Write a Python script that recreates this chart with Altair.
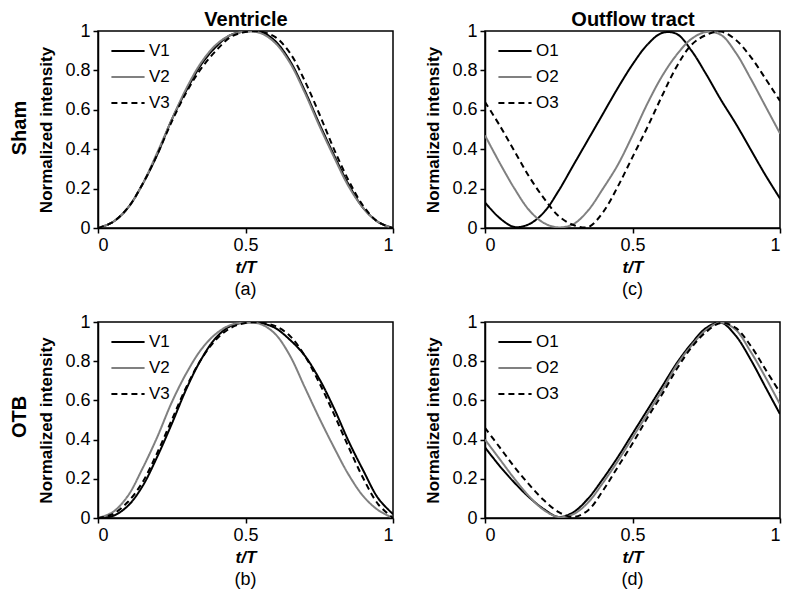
import altair as alt
import pandas as pd

# ---------------- data ----------------
t = [0.0, 0.05, 0.1, 0.15, 0.2, 0.25, 0.3, 0.35, 0.4, 0.45, 0.5,
     0.55, 0.6, 0.65, 0.7, 0.75, 0.8, 0.85, 0.9, 0.95, 1.0]

ventricle_names = ["V1", "V2", "V3"]
outflow_names = ["O1", "O2", "O3"]

# (a) Sham, ventricle
sham_v1 = [0, 0.03, 0.10, 0.22, 0.37, 0.55, 0.70, 0.83, 0.92, 0.98, 0.997,
           0.997, 0.95, 0.85, 0.70, 0.53, 0.37, 0.22, 0.10, 0.03, 0]
sham_v2 = [0, 0.03, 0.10, 0.22, 0.38, 0.55, 0.71, 0.84, 0.93, 0.98, 0.997,
           0.99, 0.94, 0.84, 0.69, 0.52, 0.36, 0.21, 0.10, 0.03, 0]
sham_v3 = [0, 0.03, 0.10, 0.22, 0.37, 0.54, 0.69, 0.81, 0.90, 0.97, 0.995,
           0.997, 0.97, 0.89, 0.75, 0.58, 0.40, 0.24, 0.11, 0.03, 0]

# (b) OTB, ventricle
otb_v1 = [0, 0.01, 0.06, 0.16, 0.31, 0.48, 0.66, 0.81, 0.92, 0.98, 0.997,
          0.995, 0.97, 0.91, 0.83, 0.71, 0.56, 0.39, 0.24, 0.10, 0.02]
otb_v2 = [0, 0.03, 0.11, 0.25, 0.41, 0.59, 0.74, 0.86, 0.94, 0.985, 0.997,
          0.99, 0.94, 0.83, 0.67, 0.51, 0.36, 0.22, 0.11, 0.04, 0.0]
otb_v3 = [0, 0.02, 0.08, 0.18, 0.33, 0.50, 0.67, 0.81, 0.91, 0.97, 0.995,
          0.997, 0.98, 0.93, 0.83, 0.69, 0.53, 0.36, 0.20, 0.07, 0.0]

# (c) Sham, outflow tract
sham_o1 = [0.13, 0.05, 0.005, 0.02, 0.08, 0.19, 0.32, 0.45, 0.58, 0.71, 0.83,
           0.93, 0.99, 0.985, 0.90, 0.78, 0.65, 0.53, 0.40, 0.27, 0.15]
sham_o2 = [0.47, 0.33, 0.20, 0.09, 0.025, 0.003, 0.02, 0.09, 0.20, 0.32, 0.47,
           0.63, 0.77, 0.88, 0.96, 0.995, 0.98, 0.89, 0.76, 0.62, 0.48]
sham_o3 = [0.64, 0.52, 0.39, 0.26, 0.15, 0.06, 0.015, 0.005, 0.08, 0.21, 0.36,
           0.51, 0.67, 0.82, 0.93, 0.98, 0.997, 0.955, 0.87, 0.76, 0.645]

# (d) OTB, outflow tract
otb_o1 = [0.36, 0.265, 0.18, 0.105, 0.045, 0.005, 0.03, 0.10, 0.20, 0.31, 0.43,
          0.55, 0.67, 0.79, 0.89, 0.97, 0.997, 0.93, 0.81, 0.67, 0.53]
otb_o2 = [0.40, 0.30, 0.20, 0.11, 0.04, 0.005, 0.02, 0.08, 0.18, 0.29, 0.41,
          0.53, 0.65, 0.78, 0.88, 0.96, 0.997, 0.96, 0.85, 0.72, 0.58]
otb_o3 = [0.46, 0.36, 0.26, 0.17, 0.09, 0.03, 0.005, 0.04, 0.14, 0.26, 0.38,
          0.51, 0.63, 0.76, 0.87, 0.95, 0.995, 0.97, 0.88, 0.76, 0.64]

x_ticks = [0, 0.5, 1]
y_ticks = [0, 0.2, 0.4, 0.6, 0.8, 1]

BLACK = "#000000"
GRAY = "#808080"
FONT = "Liberation Sans"


def make_df(names, series):
    rows = []
    for name, vals in zip(names, series):
        for ti, v in zip(t, vals):
            rows.append({"t": ti, "series": name, "value": v})
    return pd.DataFrame(rows)


def panel(df, names, label, width, height, top_title=None):
    leg = alt.Legend(
        title=None, orient="none", legendX=12, legendY=2, padding=0,
        symbolType="stroke", symbolSize=1100, symbolStrokeWidth=2,
        labelFontSize=17, labelFont=FONT, labelColor=BLACK,
        labelOffset=3, rowPadding=-9,
    )
    xs = alt.Scale(domain=[0, 1], nice=False, zero=False)
    ys = alt.Scale(domain=[0, 1], nice=False)
    lines = alt.Chart(df).mark_line(
        strokeWidth=2, interpolate="catmull-rom", clip=True
    ).encode(
        x=alt.X("t:Q", scale=xs,
                axis=alt.Axis(values=x_ticks, format="~g", title="t/T",
                              titleFontStyle="italic", titlePadding=5)),
        y=alt.Y("value:Q", scale=ys,
                axis=alt.Axis(values=y_ticks, format="~g",
                              title="Normalized intensity", titlePadding=9)),
        color=alt.Color("series:N",
                        scale=alt.Scale(domain=names, range=[BLACK, GRAY, BLACK]),
                        legend=leg),
        strokeDash=alt.StrokeDash("series:N",
                                  scale=alt.Scale(domain=names,
                                                  range=[[1, 0], [1, 0], [6, 4]]),
                                  legend=leg),
    )
    layers = [lines]
    if top_title:
        top = alt.Chart(df).mark_line(opacity=0).encode(
            x=alt.X("t:Q", scale=xs,
                    axis=alt.Axis(orient="top", title=top_title, labels=False,
                                  ticks=False, domain=False, titleFontSize=20,
                                  titleFontWeight="bold", titlePadding=2,
                                  minExtent=0, maxExtent=0,
                                  titleFontStyle="normal")),
            y=alt.Y("value:Q", scale=ys, axis=None),
            detail="series:N",
        )
        layers.append(top)
    out = alt.layer(*layers).properties(
        width=width, height=height,
        title=alt.TitleParams(label, orient="bottom", fontSize=18,
                              fontWeight="normal", offset=6, anchor="middle",
                              font=FONT, color=BLACK),
    )
    if top_title:
        out = out.resolve_axis(x="independent", y="independent")
    return out


pa = panel(make_df(ventricle_names, [sham_v1, sham_v2, sham_v3]),
           ventricle_names, "(a)", 295, 197, "Ventricle")
pc = panel(make_df(outflow_names, [sham_o1, sham_o2, sham_o3]),
           outflow_names, "(c)", 295, 197, "Outflow tract")
pb = panel(make_df(ventricle_names, [otb_v1, otb_v2, otb_v3]),
           ventricle_names, "(b)", 295, 196)
pd_ = panel(make_df(outflow_names, [otb_o1, otb_o2, otb_o3]),
            outflow_names, "(d)", 295, 196)


def row(p1, p2, name, shift):
    return alt.hconcat(
        p1, p2, spacing=29,
        title=alt.TitleParams(name, orient="left", fontSize=20, fontWeight="bold",
                              anchor="middle", frame="bounds", offset=7,
                              dx=shift, font=FONT, color=BLACK),
    ).resolve_scale(color="independent", strokeDash="independent")


chart = alt.vconcat(
    row(pa, pc, "Sham", 26), row(pb, pd_, "OTB", 34), spacing=12,
).resolve_scale(
    color="independent", strokeDash="independent"
).properties(
    padding={"left": 2, "top": 0, "right": 0, "bottom": 0},
).configure(
    font=FONT
).configure_view(
    stroke=BLACK, strokeWidth=1.5
).configure_axis(
    grid=False, domainColor=BLACK, domainWidth=1.5, tickColor=BLACK,
    tickWidth=1.5, tickSize=5, labelColor=BLACK, labelFontSize=18,
    labelFont=FONT, labelPadding=3, titleColor=BLACK, titleFontSize=17,
    titleFont=FONT, titleFontWeight="bold",
)

chart.save("out.html", embed_options={"renderer": "svg", "actions": False})
